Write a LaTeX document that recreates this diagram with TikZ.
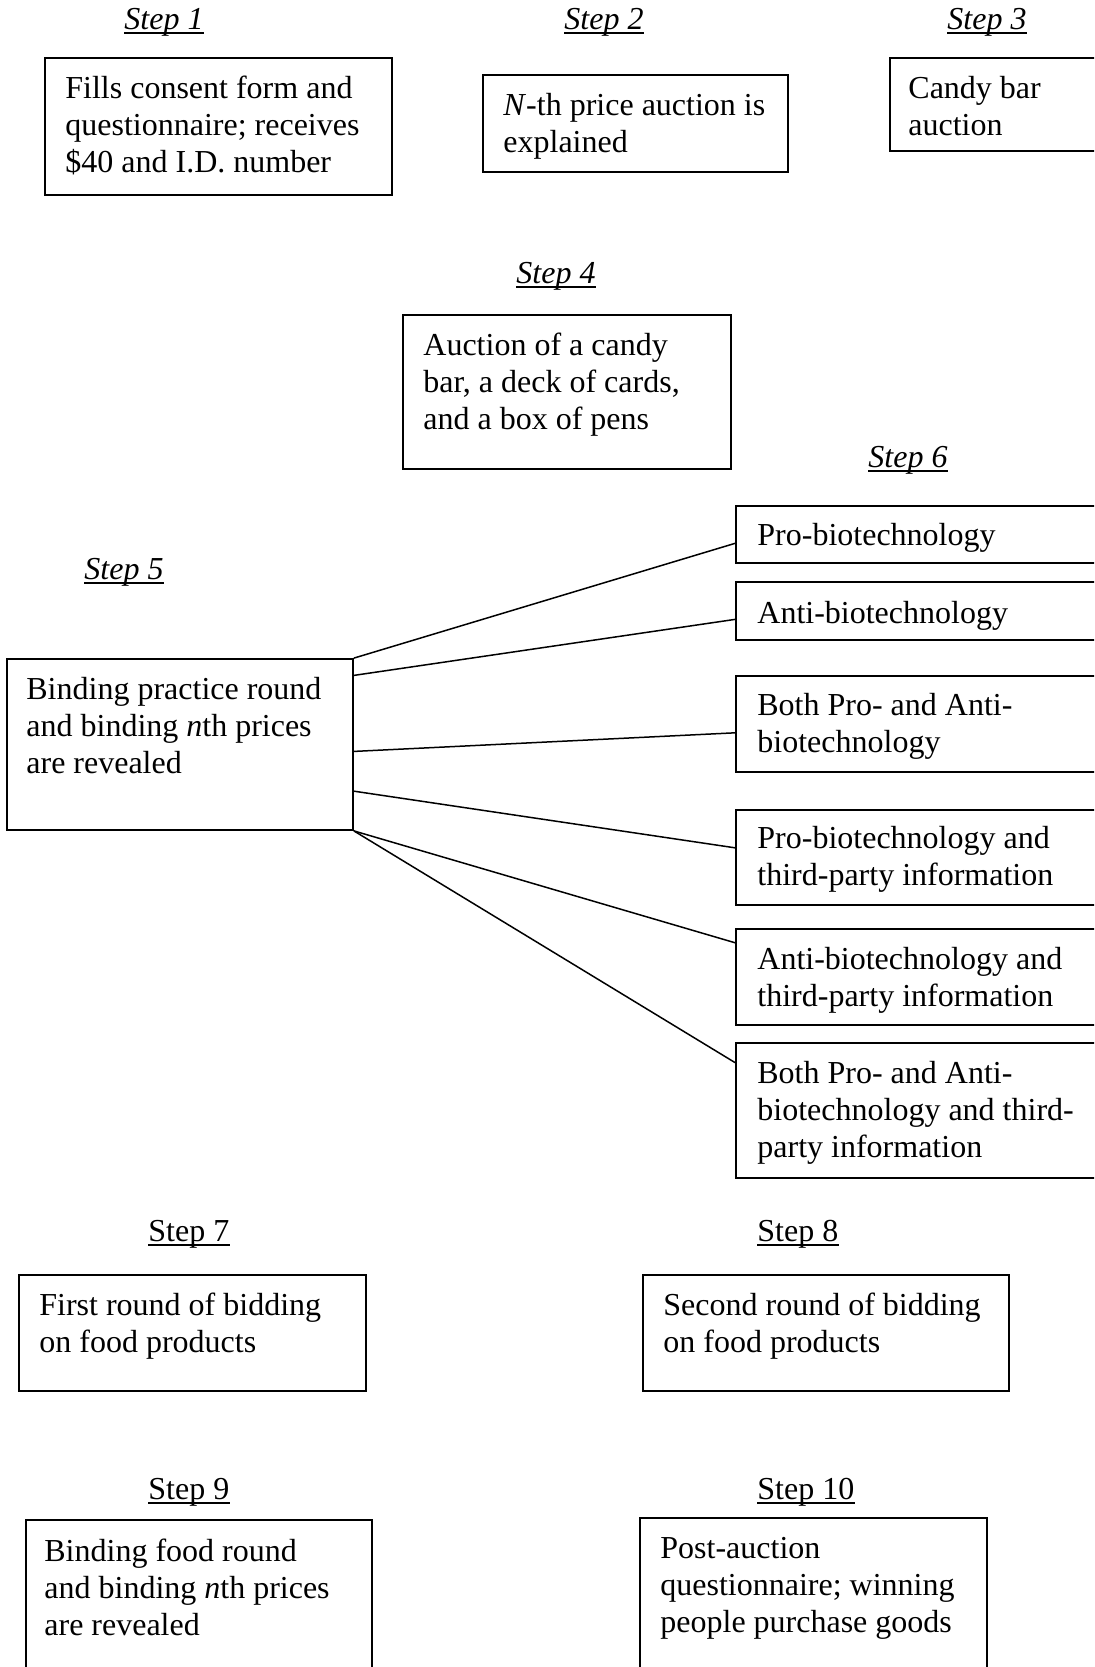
\documentclass[tikz,border=0pt]{standalone}
\usepackage{fontspec}
\setmainfont{Liberation Serif}
\usetikzlibrary{fit,calc}
\newcommand\bxtext[1]{\parbox[t]{210pt}{\raggedright\spaceskip=0pt\xspaceskip=0pt #1}}
\begin{document}
\begin{tikzpicture}[x=0.5pt,y=-0.5pt,
  box/.style={draw, line width=0.9pt, inner sep=0pt},
  txt/.style={anchor=base west, inner sep=0pt, font=\fontsize{16pt}{18.5pt}\selectfont},
  steplbl/.style={anchor=base west, inner sep=0pt, font=\fontsize{16pt}{18.5pt}\selectfont},
  ul/.style={line width=0.6pt},
  link/.style={line width=0.75pt}]
\clip (0,0) rectangle (1094,1667);
\fill[white] (0,0) rectangle (1094,1667);

% step labels
\node[steplbl] (s1) at (124,29) {\itshape Step 1};
\node[steplbl] (s2) at (564,29) {\itshape Step 2};
\node[steplbl] (s3) at (947,29) {\itshape Step 3};
\node[steplbl] (s4) at (516,283) {\itshape Step 4};
\node[steplbl] (s5) at (84,579) {\itshape Step 5};
\node[steplbl] (s6) at (868,467) {\itshape Step 6};
\node[steplbl] (s7) at (148,1241) {Step 7};
\node[steplbl] (s8) at (757,1241) {Step 8};
\node[steplbl] (s9) at (148,1499) {Step 9};
\node[steplbl] (s10) at (757,1499) {Step 10};
\foreach \s in {s1,s2,s3,s4,s5,s6,s7,s8,s9,s10}
  \draw[ul] ([yshift=-2pt]\s.base west) -- ([yshift=-2pt]\s.base east);

% boxes
\node[box, fit={(45,58) (392,195)}] (b1) {};
\node[box, fit={(483,75) (788,172)}] (b2) {};
\node[box, fit={(890,58) (1110,151)}] (b3) {};
\node[box, fit={(403,315) (731,469)}] (b4) {};
\node[box, fit={(7,659) (353,830)}] (b5) {};
\node[box, fit={(736,506) (1110,563)}] (b6a) {};
\node[box, fit={(736,582) (1110,640)}] (b6b) {};
\node[box, fit={(736,676) (1110,772)}] (b6c) {};
\node[box, fit={(736,810) (1110,905)}] (b6d) {};
\node[box, fit={(736,929) (1110,1025)}] (b6e) {};
\node[box, fit={(736,1043) (1110,1178)}] (b6f) {};
\node[box, fit={(19,1275) (366,1391)}] (b7) {};
\node[box, fit={(643,1275) (1009,1391)}] (b8) {};
\node[box, fit={(26,1520) (372,1700)}] (b9) {};
\node[box, fit={(640,1518) (987,1700)}] (b10) {};

% texts
\node[txt] (t1) at (65,98) {\bxtext{Fills consent form and\\questionnaire; receives\\\$40 and I.D. number}};
\node[txt] (t2) at (503,115) {\bxtext{\textit{N}-th price auction is\\explained}};
\node[txt] (t3) at (908,98) {\bxtext{Candy bar\\auction}};
\node[txt] (t4) at (423,355) {\bxtext{Auction of a candy\\bar, a deck of cards,\\and a box of pens}};
\node[txt] (t5) at (26,699) {\bxtext{Binding practice round\\and binding \textit{n}th prices\\are revealed}};
\node[txt] (t6a) at (757,545) {\bxtext{Pro-biotechnology}};
\node[txt] (t6b) at (757,623) {\bxtext{Anti-biotechnology}};
\node[txt] (t6c) at (757,715) {\bxtext{Both Pro- and Anti-\\biotechnology}};
\node[txt] (t6d) at (757,848) {\bxtext{Pro-biotechnology and\\third-party information}};
\node[txt] (t6e) at (757,969) {\bxtext{Anti-biotechnology and\\third-party information}};
\node[txt] (t6f) at (757,1083) {\bxtext{Both Pro- and Anti-\\biotechnology and third-\\party information}};
\node[txt] (t7) at (39,1315) {\bxtext{First round of bidding\\on food products}};
\node[txt] (t8) at (663,1315) {\bxtext{Second round of bidding\\on food products}};
\node[txt] (t9) at (44,1561) {\bxtext{Binding food round\\and binding \textit{n}th prices\\are revealed}};
\node[txt] (t10) at (660,1558) {\bxtext{Post-auction\\questionnaire; winning\\people purchase goods}};

% connectors
\draw[link] (b5.north east) -- ($(b6a.north west)!0.65!(b6a.south west)$);
\draw[link] ($(b5.north east)!0.10!(b5.south east)$) -- ($(b6b.north west)!0.64!(b6b.south west)$);
\draw[link] ($(b5.north east)!0.54!(b5.south east)$) -- ($(b6c.north west)!0.59!(b6c.south west)$);
\draw[link] ($(b5.north east)!0.77!(b5.south east)$) -- ($(b6d.north west)!0.40!(b6d.south west)$);
\draw[link] (b5.south east) -- ($(b6e.north west)!0.15!(b6e.south west)$);
\draw[link] (b5.south east) -- ($(b6f.north west)!0.15!(b6f.south west)$);
\end{tikzpicture}
\end{document}
